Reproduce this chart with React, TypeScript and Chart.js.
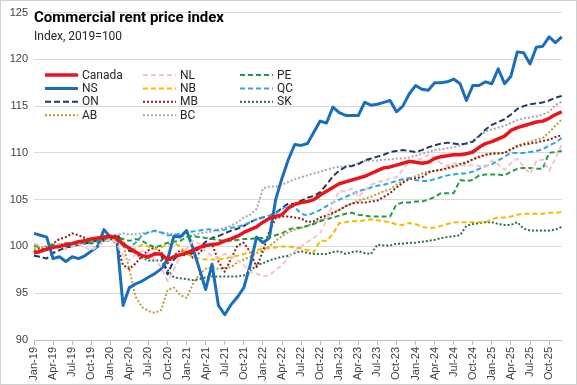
import React, { useEffect, useRef } from "react";
import { Chart, registerables } from "chart.js";

Chart.register(...registerables);

const TITLE = "Commercial rent price index";
const SUBTITLE = "Index, 2019=100";

const years = ["19", "20", "21", "22", "23", "24", "25"];
const monthNames = ["Jan", "Feb", "Mar", "Apr", "May", "Jun", "Jul", "Aug", "Sep", "Oct", "Nov", "Dec"];
const categories: string[] = [];
years.forEach((y) => monthNames.forEach((m) => categories.push(`${m}-${y}`)));

const yTicks = [90, 95, 100, 105, 110, 115, 120, 125];

const canada = [
  99.3, 99.5, 99.7, 99.9, 100.0, 100.2, 100.3, 100.5, 100.6, 100.8, 100.9, 101.0,
  101.1, 100.9, 100.2, 99.8, 99.4, 99.0, 98.9, 99.2, 99.2, 98.6, 98.9, 99.1,
  99.3, 99.6, 99.9, 100.1, 100.2, 100.3, 100.6, 100.8, 101.1, 101.5, 101.8, 102.1,
  102.6, 103.0, 103.2, 103.4, 104.1, 104.5, 104.7, 104.8, 105.0, 105.5, 105.9, 106.3,
  106.7, 106.9, 107.1, 107.3, 107.5, 107.8, 108.1, 108.4, 108.5, 108.7, 108.9, 109.1,
  109.0, 108.9, 109.0, 109.4, 109.6, 109.7, 109.8, 109.8, 109.9, 110.1, 110.6, 111.0,
  111.2, 111.5, 111.8, 112.4, 112.7, 112.9, 113.1, 113.3, 113.4, 113.7, 114.1, 114.4,
];
const nl = [
  100.3, 100.1, 99.8, 99.9, 100.2, 99.7, 100.0, 100.3, 99.9, 99.6, 100.0, 100.5,
  100.8, 100.4, 99.0, 98.5, 99.2, 99.5, 99.3, 98.6, 97.8, 96.3, 97.5, 99.0,
  99.8, 100.6, 100.3, 99.5, 99.0, 98.8, 99.2, 98.9, 98.5, 98.0, 97.3, 97.1,
  96.8, 96.9, 97.5, 98.0, 98.8, 99.5, 100.0, 100.5, 100.9, 101.4, 102.8, 104.6,
  105.9, 105.9, 106.2, 105.3, 106.0, 106.6, 106.9, 107.0, 107.3, 107.4, 108.2, 109.1,
  109.2, 109.4, 109.8, 109.4, 108.9, 108.6, 108.9, 108.7, 108.6, 108.7, 108.6, 108.5,
  109.2, 108.8, 108.2, 108.9, 109.4, 108.5, 107.8, 109.1, 109.3, 108.1, 109.4, 110.9,
];
const pe = [
  100.2, 99.9, 100.0, 100.2, 100.1, 100.3, 100.4, 100.3, 100.5, 100.4, 100.6, 100.7,
  100.9, 101.0, 100.8, 100.6, 100.8, 100.6, 100.2, 99.9, 100.1, 100.4, 100.5, 100.6,
  101.0, 101.1, 101.0, 100.9, 100.8, 100.7, 100.6, 100.6, 100.7, 100.8, 100.8, 100.9,
  100.9, 101.0, 101.2, 101.4, 101.8, 102.0, 102.0, 102.2, 102.4, 102.7, 102.9, 103.1,
  103.3, 103.5, 103.6, 103.4, 103.3, 103.2, 103.2, 103.2, 103.2, 104.5, 104.7, 104.7,
  104.8, 104.8, 105.0, 105.3, 105.7, 105.7, 105.7, 107.1, 107.0, 107.1, 107.6, 107.7,
  107.7, 107.7, 107.6, 108.0, 108.3, 108.4, 108.4, 108.3, 108.3, 110.0, 110.1, 110.2,
];
const ns = [
  101.4, 101.2, 101.0, 98.7, 98.9, 98.4, 98.9, 98.7, 99.0, 99.5, 100.0, 101.8,
  101.0, 101.0, 93.7, 95.6, 96.0, 96.3, 96.7, 97.1, 97.6, 98.6, 101.1, 101.0,
  101.7, 99.8, 97.6, 95.4, 98.1, 93.7, 92.7, 93.8, 94.6, 95.6, 98.0, 101.0,
  100.4, 100.9, 105.0, 107.3, 109.3, 110.9, 110.8, 111.0, 112.2, 113.4, 113.2, 114.9,
  114.3, 114.0, 114.0, 114.0, 115.4, 115.1, 115.2, 115.4, 115.6, 114.4, 115.0, 116.3,
  117.2, 116.8, 116.7, 117.5, 117.5, 117.6, 117.9, 117.4, 115.6, 117.2, 117.2, 117.6,
  117.4, 119.0, 117.4, 118.2, 120.8, 120.7, 119.5, 121.3, 121.4, 122.4, 121.8, 122.4,
];
const nb = [
  99.9, 100.0, 99.8, 100.0, 100.1, 100.3, 100.2, 100.4, 100.5, 100.6, 100.7, 100.9,
  100.7, 100.8, 100.5, 99.6, 99.8, 100.2, 100.0, 99.7, 99.9, 100.2, 100.4, 100.0,
  99.2, 98.9, 98.7, 98.6, 98.6, 98.6, 98.7, 98.9, 99.0, 99.2, 99.4, 99.6,
  99.8, 99.8, 99.9, 100.0, 100.0, 99.9, 99.8, 99.6, 99.4, 100.6, 100.6, 101.3,
  102.5, 102.6, 102.7, 102.7, 102.8, 102.9, 102.8, 102.7, 102.6, 102.35, 102.3, 102.5,
  102.4, 102.1, 102.0, 102.0, 102.2, 102.4, 102.55, 102.6, 102.6, 102.6, 102.6, 102.6,
  102.9, 103.1, 103.1, 103.2, 103.4, 103.5, 103.5, 103.5, 103.5, 103.6, 103.6, 103.7,
];
const qc = [
  99.9, 100.0, 99.9, 100.1, 100.2, 100.1, 100.3, 100.2, 100.4, 100.3, 100.5, 100.6,
  100.6, 100.8, 100.3, 99.9, 100.4, 101.2, 101.5, 101.7, 101.5, 101.2, 101.2, 101.4,
  101.5, 101.6, 101.7, 101.8, 101.8, 101.7, 101.8, 102.0, 102.1, 102.3, 102.6, 102.9,
  103.1, 103.3, 103.5, 104.0, 104.4, 104.2, 103.5, 103.3, 103.6, 103.9, 104.3, 104.7,
  105.0, 105.3, 105.6, 105.9, 106.1, 106.3, 106.5, 106.6, 106.8, 107.0, 107.2, 107.3,
  107.1, 107.0, 107.0, 107.2, 107.4, 107.6, 107.7, 107.8, 107.8, 108.0, 108.3, 108.6,
  108.8, 109.2, 109.6, 110.0, 110.0, 110.0, 110.1, 110.2, 110.4, 110.8, 111.1, 111.6,
];
const on = [
  99.0, 98.9, 98.7, 99.3, 99.6, 99.9, 100.0, 100.2, 100.3, 100.5, 100.7, 100.8,
  100.9, 101.3, 100.5, 99.5, 99.4, 99.0, 98.8, 99.3, 99.1, 97.0, 98.6, 99.2,
  99.0, 99.3, 99.8, 100.5, 100.9, 101.1, 101.4, 101.7, 101.9, 102.2, 102.6, 102.9,
  103.1, 103.3, 103.6, 104.1, 104.6, 104.5, 104.9, 105.2, 105.4, 105.8, 106.6, 107.5,
  108.1, 108.5, 108.6, 108.8, 109.2, 109.4, 109.6, 109.8, 110.1, 110.2, 110.3, 110.2,
  110.1, 110.3, 110.6, 110.8, 111.0, 111.1, 111.0, 110.9, 111.0, 111.2, 111.8, 112.5,
  113.0, 113.3, 113.6, 114.1, 114.7, 115.0, 115.2, 115.3, 115.4, 115.6, 115.9, 116.1,
];
const mb = [
  99.5, 99.3, 99.8, 100.3, 100.8, 101.0, 101.4, 101.2, 100.9, 100.7, 100.5, 100.6,
  100.8, 100.3, 98.0, 97.6, 98.2, 99.0, 99.6, 99.9, 99.4, 98.2, 99.0, 99.6,
  99.4, 98.8, 99.3, 100.1, 100.3, 98.4, 97.3, 98.7, 100.1, 100.4, 99.4, 97.8,
  99.5, 101.6, 103.0, 103.2, 103.2, 103.1, 103.0, 102.6, 102.7, 103.1, 103.3, 103.6,
  103.9, 104.3, 104.6, 104.7, 104.7, 104.8, 104.9, 105.3, 105.7, 106.3, 106.8, 107.2,
  107.3, 107.4, 107.9, 108.1, 108.2, 108.4, 108.6, 108.8, 109.0, 109.3, 109.6, 109.8,
  109.9, 109.95, 110.0, 110.4, 110.7, 110.9, 111.0, 111.1, 111.3, 111.4, 111.7, 111.9,
];
const sk = [
  100.0, 99.8, 99.9, 100.1, 100.2, 100.0, 100.3, 100.5, 100.4, 100.6, 100.8, 100.9,
  101.0, 100.8, 100.4, 99.8, 99.2, 98.8, 98.5, 98.5, 98.5, 97.5, 96.7, 96.6,
  96.5, 96.4, 96.5, 96.7, 96.8, 96.8, 96.8, 96.8, 96.8, 96.9, 97.4, 98.0,
  98.2, 98.5, 98.7, 98.9, 99.0, 99.3, 99.5, 99.3, 99.2, 99.2, 99.2, 99.4,
  99.5, 99.2, 99.4, 99.5, 99.3, 99.2, 100.2, 100.1, 100.1, 100.3, 100.3, 100.4,
  100.4, 100.5, 100.6, 100.7, 100.9, 101.0, 101.1, 101.2, 102.2, 102.4, 102.5, 102.6,
  102.6, 102.4, 102.3, 102.3, 102.6, 101.9, 101.7, 101.7, 101.7, 101.7, 101.8, 102.1,
];
const ab = [
  99.6, 99.8, 99.7, 99.9, 100.2, 100.4, 100.3, 100.6, 100.5, 100.8, 100.9, 101.0,
  100.9, 100.7, 100.3, 97.5, 94.6, 93.5, 93.1, 92.9, 93.2, 95.3, 95.6, 94.8,
  94.5, 96.0, 97.0, 97.6, 97.8, 97.6, 97.7, 97.8, 98.3, 98.6, 98.9, 99.3,
  99.6, 100.0, 100.6, 101.1, 101.5, 101.8, 102.0, 102.2, 102.5, 102.8, 103.1, 103.5,
  103.9, 104.3, 104.6, 104.9, 105.1, 105.3, 105.6, 105.9, 106.1, 106.6, 107.0, 107.3,
  107.5, 107.8, 108.0, 108.1, 108.2, 108.3, 108.5, 108.7, 108.9, 109.3, 109.5, 109.8,
  110.0, 110.0, 110.0, 110.3, 110.8, 111.0, 111.2, 111.4, 111.6, 112.2, 112.9, 113.6,
];
const bc = [
  99.6, 99.8, 99.7, 100.0, 100.1, 100.2, 100.0, 100.3, 100.4, 100.5, 100.7, 100.8,
  101.0, 101.2, 101.4, 101.3, 101.3, 101.4, 101.5, 101.6, 101.5, 101.4, 101.3, 101.2,
  101.0, 101.2, 101.4, 101.5, 101.6, 101.8, 102.0, 102.2, 102.6, 103.1, 103.4, 104.0,
  106.2, 106.4, 106.4, 106.6, 106.9, 107.2, 107.4, 107.6, 107.8, 108.0, 108.2, 108.4,
  108.5, 108.6, 108.7, 108.9, 109.1, 109.2, 109.2, 109.3, 109.3, 109.4, 109.4, 109.5,
  109.7, 109.9, 110.1, 110.3, 110.4, 110.5, 110.6, 110.8, 111.0, 111.3, 111.8, 112.3,
  112.5, 112.7, 112.9, 113.2, 113.5, 113.7, 113.8, 113.9, 114.1, 114.4, 115.1, 115.5,
];

const seriesNames = ["Canada", "NL", "PE", "NS", "NB", "QC", "ON", "MB", "SK", "AB", "BC"];
const seriesValues = [canada, nl, pe, ns, nb, qc, on, mb, sk, ab, bc];
const seriesColors = ["#E8161C", "#F6C3CC", "#1E9E49", "#1B6EBA", "#F7B900", "#2BA7E0", "#1F3A60", "#8E1E1E", "#2E6B4E", "#C09A32", "#A8A8A8"];
const seriesWidths = [3.5, 2, 2, 3, 2, 2, 2, 2, 2, 2, 2];
const seriesDashes = [[], [5, 3], [5, 3], [], [5, 3], [5, 3], [6, 3], [2, 2], [2, 2], [2, 2], [2, 2]];

const FONT_UI = "Roboto, 'Liberation Sans', sans-serif";
const FONT_TICK = "'Liberation Sans', Arial, sans-serif";

const overlayPlugin = {
  id: "overlay",
  beforeDraw(chart: any) {
    const ctx = chart.ctx;
    ctx.save();
    ctx.fillStyle = "#ffffff";
    ctx.fillRect(0, 0, chart.width, chart.height);
    ctx.restore();
  },
  afterDraw(chart: any) {
    const ctx = chart.ctx;
    ctx.save();
    ctx.strokeStyle = "#D0D0D0";
    ctx.lineWidth = 1;
    ctx.strokeRect(0.5, 0.5, chart.width - 1, chart.height - 1);

    ctx.fillStyle = "#000000";
    ctx.textBaseline = "alphabetic";
    ctx.textAlign = "left";
    ctx.font = `bold 15px ${FONT_UI}`;
    ctx.fillText(TITLE, 34, 22);
    ctx.fillStyle = "#262626";
    ctx.font = `12px ${FONT_UI}`;
    ctx.fillText(SUBTITLE, 34, 40);

    const colX = [45, 143, 240];
    chart.data.datasets.forEach((ds: any, i: number) => {
      const col = i % 3;
      const row = Math.floor(i / 3);
      const x = colX[col];
      const y = 75 + row * 13.4;
      ctx.strokeStyle = ds.borderColor;
      ctx.lineWidth = ds.borderWidth;
      ctx.setLineDash(ds.borderDash || []);
      ctx.lineCap = "butt";
      ctx.beginPath();
      ctx.moveTo(x, y);
      ctx.lineTo(x + 33, y);
      ctx.stroke();
      ctx.setLineDash([]);
      ctx.fillStyle = "#262626";
      ctx.font = `12px ${FONT_UI}`;
      ctx.textBaseline = "middle";
      ctx.fillText(ds.label, x + 37, y + 0.5);
    });
    ctx.restore();
  },
};

export default function App() {
  const ref = useRef<HTMLCanvasElement | null>(null);

  useEffect(() => {
    if (!ref.current) return;
    const chart = new Chart(ref.current, {
      type: "line",
      data: {
        labels: categories,
        datasets: seriesNames.map((name, i) => ({
          label: name,
          data: seriesValues[i],
          borderColor: seriesColors[i],
          backgroundColor: seriesColors[i],
          borderWidth: seriesWidths[i],
          borderDash: seriesDashes[i],
          borderCapStyle: "butt",
          borderJoinStyle: "round",
          pointRadius: 0,
          pointHoverRadius: 0,
          tension: 0,
          fill: false,
        })),
      },
      options: {
        animation: false,
        responsive: false,
        devicePixelRatio: 1,
        layout: { padding: { top: 10, right: 5, left: 0, bottom: 0 } },
        plugins: {
          legend: { display: false },
          tooltip: { enabled: false },
          title: { display: false },
        },
        scales: {
          x: {
            type: "category",
            offset: false,
            afterFit: (scale: any) => {
              scale.height = 45;
            },
            grid: {
              display: true,
              drawOnChartArea: false,
              drawTicks: true,
              tickLength: 5,
              color: (c: any) => (c.index % 3 === 0 ? "#BFBFBF" : "rgba(0,0,0,0)"),
            },
            border: { display: true, color: "#BFBFBF", width: 1 },
            ticks: {
              autoSkip: false,
              maxRotation: 90,
              minRotation: 90,
              padding: 2,
              color: "#404040",
              font: { family: FONT_TICK, size: 11 },
              callback: (_v: any, idx: number) => (idx % 3 === 0 ? categories[idx] : ""),
            },
          },
          y: {
            min: yTicks[0],
            max: yTicks[yTicks.length - 1],
            afterFit: (scale: any) => {
              scale.width = 34;
            },
            afterBuildTicks: (scale: any) => {
              scale.ticks = yTicks.map((v) => ({ value: v }));
            },
            grid: { color: "#D9D9D9", lineWidth: 1, drawTicks: false },
            border: { display: false },
            ticks: {
              padding: 6,
              color: "#404040",
              font: { family: FONT_TICK, size: 11 },
            },
          },
        },
      },
      plugins: [overlayPlugin],
    });
    return () => chart.destroy();
  }, []);

  return (
    <div style={{ position: "fixed", left: 0, top: 0, width: 577, height: 385, background: "#fff" }}>
      <canvas ref={ref} width={577} height={385} style={{ display: "block", width: 577, height: 385 }} />
    </div>
  );
}
